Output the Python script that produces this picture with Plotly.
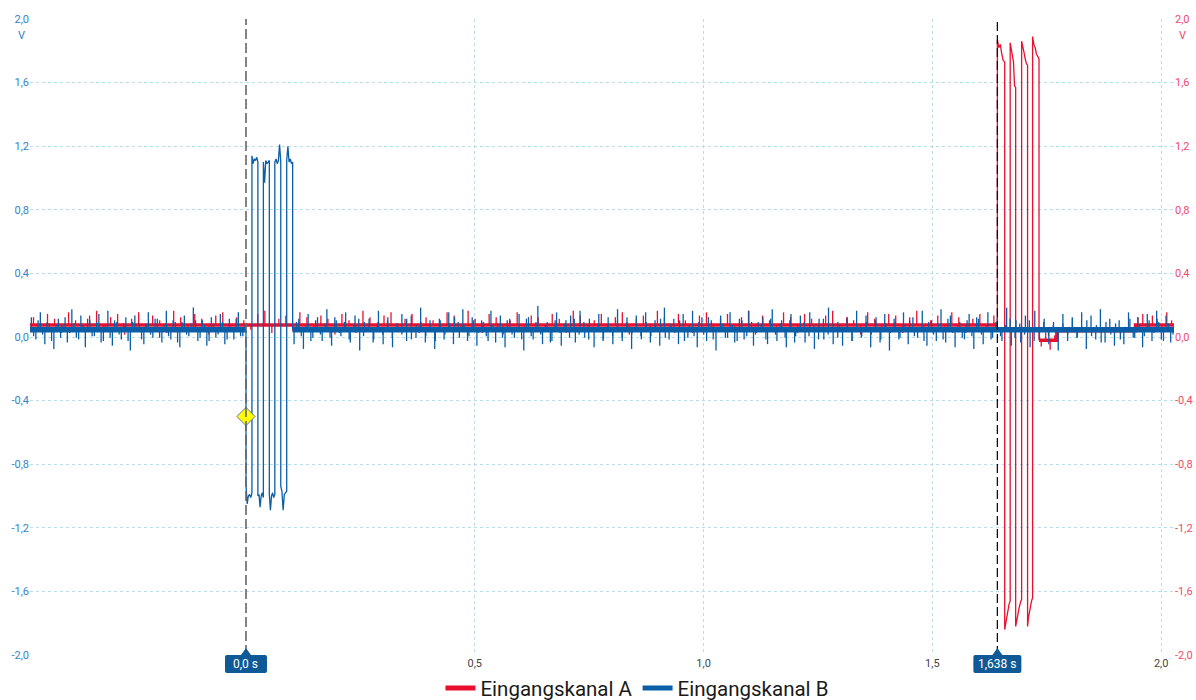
import numpy as np
import plotly.graph_objects as go

# ---------------- data ----------------
X_TICKS = [0.5, 1.0, 1.5, 2.0]
X_TICK_LABELS = ["0,5", "1,0", "1,5", "2,0"]
Y_TICKS = [-2.0, -1.6, -1.2, -0.8, -0.4, 0.0, 0.4, 0.8, 1.2, 1.6, 2.0]
Y_TICK_LABELS = ["-2,0", "-1,6", "-1,2", "-0,8", "-0,4", "0,0", "0,4", "0,8", "1,2", "1,6", "2,0"]
T_START = -0.472
T_END = 2.028

CURSOR_TIMES = [0.0, 1.642]
CURSOR_LABELS = ["0,0 s", "1,638 s"]
TRIGGER_T = [0.0]
TRIGGER_V = [-0.5]

# Channel B (blue)
BLUE_BASE = 0.045
BLUE_BURST_EDGES = [0.000, 0.013, 0.026, 0.038, 0.051, 0.063, 0.076, 0.089, 0.102]
BLUE_BURST_SHAPES = [
    [-0.93, -1.05, -1.00, -0.99, -1.01, -0.98],
    [1.14, 1.09, 1.12, 1.11, 1.13, 1.10],
    [-1.00, -0.99, -1.07, -1.00, -0.98, -1.01],
    [1.10, 0.97, 1.11, 1.09, 1.10, 1.11],
    [-0.99, -1.09, -1.00, -0.98, -1.01, -0.99],
    [1.10, 1.12, 1.09, 1.11, 1.21, 1.10],
    [-0.94, -0.97, -1.09, -0.99, -0.98, -0.97],
    [1.11, 1.20, 1.10, 1.12, 1.09, 1.10],
]
BLUE_PRE_SPIKES_CV = [8, -6, 11, -9, 4, -12, 7, 3, -8, 13, -5, 9, -11, 6, -4, 10, -7, 12,
                      -10, 5, -6, 8, -13, 9, 4, -9, 11, -5, 7, -8, 12, -6, 5, -11, 9, -4,
                      14, -7, 6, -10, 8, -5, 10, -9, 7, -6, 11, -4]
BLUE_PRE_SPIKES_B_CV = [-4, 6, -3, 5, -7, 3, -5, 8, -2, 4, -6, 3, 7, -4, 5, -8, 3, -5, 6, -3,
                        4, -7, 5, 2, -6, 4, -3, 7, -5, 3, -4, 6, -8, 5, -3, 4, 6, -5, 3, -7,
                        4, -3, 5, -6, 2, 7, -4, 3]
BLUE_POST_SPIKES_CV = [-9, 7, -12, 10, -5, 8, -7, 13, -10, 6, -4, 11, -8, 9, -13, 5, 7, -6,
                       12, -9, 8, -11, 4, 10, -7, 9, -5, 14, -8, 6, -12, 7, -6, 11, -9, 5,
                       13, -7, 8, -10, 6, -4, 12, -8, 9, -11, 7, -5, 10, -13, 8, -6, 15, -9,
                       5, -7, 11, -10, 6, 9, -8, 12, -5, 7, -11, 10, -6, 8, -9, 13, -7, 5,
                       -12, 9, -4, 11, -8, 6, -10, 14, -6, 7, -9, 10, -5, 12, -11, 8, -7, 6,
                       -13, 9, -5, 11, -8, 7, -6, 12, -10, 5, 8, -9, 13, -7, 6, -11, 10, -4,
                       9, -8, 11, -12, 7, -6, 14, -9, 5, -10, 8, -7, 12, -5, 9, -11, 6, -8,
                       10, -13, 7, -6, 11, -9, 8, -5, 12, -10, 6, -7, 13, -8, 9, -11, 5, -6,
                       10, -12, 7, -9, 11, -5, 8, -7, 14, -10, 6, -8, 9, -11, 12, -6, 7, -9,
                       5, -13, 10, -7, 8, -5, 11, -12, 9, -6, 13, -8, 7, -10, 6, -9, 11, -5,
                       8, -11, 10, -7, 12, -6, 9, -8]
BLUE_POST_SPIKES_B_CV = [5, -4, 3, -7, 6, -3, 4, -5, 8, -2, 5, -6, 3, 7, -4, 2, -8, 5, -3, 6,
                         -5, 4, -3, 7, -6, 3, 5, -4, 2, -7, 6, -3, 4, 8, -5, 3, -4, 6, -2, 5,
                         -7, 3, 4, -5, 6, -3, 2, -6, 7, -4, 5, -3, 3, -8, 6, -2, 4, -5, 7, -3,
                         5, -6, 2, 4, -7, 3, -4, 6, -5, 8, -3, 2, -6, 5, -4, 3, 7, -5, 4, -2,
                         6, -7, 3, -4, 5, -3, 8, -6, 2, 4, -5, 3, -7, 6, -4, 5, -2, 3, -6, 7,
                         -3, 4, -5, 6, -8, 2, 5, -4, 3, -6, 7, -3, 4, -5, 2, 6, -7, 3, -4, 5,
                         -3, 8, -6, 4, -2, 5, -5, 3, 6, -4, 2, -7, 5, -3, 4, -6, 7, -2, 3, -5,
                         6, -4, 8, -3, 2, -6, 5, -4, 3, 7, -5, 4, -3, 6, -7, 2, 5, -4, 3, -6,
                         4, -3, 7, -5, 2, 6, -4, 3, -8, 5, -3, 4, -6, 2, 7, -5, 3, -4, 6, -2,
                         5, -7, 4, -3]

# Channel A (red)
RED_BASE = 0.075
RED_AFTER_LEVELS = [-0.02, 0.04]
RED_AFTER_EDGES = [1.733, 1.772, 1.944]
RED_BURST_EDGES = [1.642, 1.658, 1.670, 1.682, 1.695, 1.708, 1.719, 1.733]
RED_BURST_SHAPES = [
    [1.87, 1.82, 1.84, 1.78, 1.74, 1.73],
    [-1.84, -1.80, -1.75, -1.71, -1.68, -1.66],
    [1.85, 1.81, 1.77, 1.73, 1.58, 1.57],
    [-1.82, -1.77, -1.73, -1.70, -1.67, -1.65],
    [1.86, 1.83, 1.79, 1.75, 1.72, 1.71],
    [-1.82, -1.76, -1.72, -1.69, -1.66, -1.64],
    [1.89, 1.84, 1.82, 1.78, 1.76, 1.75],
]
RED_PRE_SPIKES_CV = [5, -3, 7, 4, -5, 8, 3, -4, 6, 9, -3, 5, 7, -6, 4, 8, -4, 6, 3, -5, 9, 5,
                     -3, 7, 4, -6, 6, 8, -4, 5, 3, -3, 7, 9, -5, 4, 6, -4, 8, 5, -3, 6, 4, -6,
                     7, 3, -5, 9, 5, -4, 6, 8, -3, 4, 7, -5, 5, 3, -4, 8, 6, -3, 9, 4, -5, 7,
                     5, -6, 3, 8, -4, 6, 5, -3, 7, 4, -5, 9, 6, -4, 3, 7, -3, 5, 8, -6, 4, 6,
                     -4, 9, 5, -3, 7, 3, -5, 6, 8, -4, 4, 7, -3, 5, 9, -6, 6, 3, -4, 8, 5, -5,
                     7, 4, -3, 6, 9, -4, 5, 3, -6, 8, 4, -3, 7, 6, -5, 5, 9, -4, 3, 6, -3, 8,
                     5, -5, 4, 7, -4, 6]
RED_LOW_SPIKES_CV = [-4, 5, -6, 3]
RED_END_SPIKES_CV = [5, 7, -3, 6, 4, -4, 8, 3]

# ---------------- styles ----------------
BLUE = "#0b5ea6"
RED = "#e8102f"
GRID = "#b9dcea"
BLUE_TXT = "#3a80c4"
RED_TXT = "#ef4a6c"
FONT = "Roboto, 'Open Sans', sans-serif"


def spikes(t0, t1, base, cv_list, offset=0.5):
    n = len(cv_list)
    step = (t1 - t0) / n
    xs, ys = [], []
    for i, cv in enumerate(cv_list):
        t = t0 + (i + offset) * step
        xs += [t, t, None]
        ys += [base, base + cv / 100.0, None]
    return xs, ys


def burst(edges, shapes, before, after):
    xs, ys = [edges[0]], [before]
    for i, vals in enumerate(shapes):
        ts = np.linspace(edges[i], edges[i + 1], len(vals))
        xs += [float(t) for t in ts]
        ys += list(vals)
    xs.append(edges[-1])
    ys.append(after)
    return xs, ys


fig = go.Figure()

# ---- red channel (A) ----
red_band_x = [T_START, RED_BURST_EDGES[0], None,
              RED_AFTER_EDGES[0], RED_AFTER_EDGES[1], RED_AFTER_EDGES[1], RED_AFTER_EDGES[2],
              RED_AFTER_EDGES[2], T_END]
red_band_y = [RED_BASE, RED_BASE, None,
              RED_AFTER_LEVELS[0], RED_AFTER_LEVELS[0], RED_AFTER_LEVELS[1], RED_AFTER_LEVELS[1],
              RED_BASE, RED_BASE]
fig.add_trace(go.Scatter(x=red_band_x, y=red_band_y, mode="lines", line=dict(color=RED, width=3.5),
                         showlegend=False, hoverinfo="skip", connectgaps=False))
rx, ry = [], []
a, b = spikes(T_START, RED_BURST_EDGES[0], RED_BASE, RED_PRE_SPIKES_CV); rx += a; ry += b
a, b = spikes(RED_AFTER_EDGES[0], RED_AFTER_EDGES[1], RED_AFTER_LEVELS[0], RED_LOW_SPIKES_CV); rx += a; ry += b
a, b = spikes(RED_AFTER_EDGES[2], T_END, RED_BASE, RED_END_SPIKES_CV); rx += a; ry += b
a, b = burst(RED_BURST_EDGES, RED_BURST_SHAPES, RED_BASE, RED_AFTER_LEVELS[0]); rx += a; ry += b
fig.add_trace(go.Scatter(x=rx, y=ry, mode="lines", line=dict(color=RED, width=1.3),
                         showlegend=False, hoverinfo="skip", connectgaps=False))

# ---- blue channel (B) ----
blue_band_x = [T_START, BLUE_BURST_EDGES[0], None, BLUE_BURST_EDGES[-1], T_END]
blue_band_y = [BLUE_BASE, BLUE_BASE, None, BLUE_BASE, BLUE_BASE]
fig.add_trace(go.Scatter(x=blue_band_x, y=blue_band_y, mode="lines", line=dict(color=BLUE, width=5.5),
                         showlegend=False, hoverinfo="skip", connectgaps=False))
bx, by = [], []
a, b = spikes(T_START, BLUE_BURST_EDGES[0], BLUE_BASE, BLUE_PRE_SPIKES_CV, 0.3); bx += a; by += b
a, b = spikes(T_START, BLUE_BURST_EDGES[0], BLUE_BASE, BLUE_PRE_SPIKES_B_CV, 0.8); bx += a; by += b
a, b = spikes(BLUE_BURST_EDGES[-1], T_END, BLUE_BASE, BLUE_POST_SPIKES_CV, 0.3); bx += a; by += b
a, b = spikes(BLUE_BURST_EDGES[-1], T_END, BLUE_BASE, BLUE_POST_SPIKES_B_CV, 0.8); bx += a; by += b
a, b = burst(BLUE_BURST_EDGES, BLUE_BURST_SHAPES, BLUE_BASE, BLUE_BASE); bx += a; by += b
fig.add_trace(go.Scatter(x=bx, y=by, mode="lines", line=dict(color=BLUE, width=1.3),
                         showlegend=False, hoverinfo="skip", connectgaps=False))

# ---- trigger marker & legend entries (right axis layer, on top) ----
fig.add_trace(go.Scatter(x=TRIGGER_T, y=TRIGGER_V, mode="markers", yaxis="y2",
                         marker=dict(symbol="diamond", size=14, color="#ffff00",
                                     line=dict(color="#6a6fb0", width=1)),
                         showlegend=False, hoverinfo="skip"))
fig.add_trace(go.Scatter(x=[None], y=[None], mode="lines", yaxis="y2", name="Eingangskanal A",
                         line=dict(color=RED, width=5)))
fig.add_trace(go.Scatter(x=[None], y=[None], mode="lines", yaxis="y2", name="Eingangskanal B",
                         line=dict(color=BLUE, width=5)))

# ---- cursors ----
shapes = []
cursor_styles = [dict(color="#666666", width=1.6, dash="10px,4px"),
                 dict(color="#111111", width=1.3, dash="9px,4px")]
half_widths = [21, 24]
for t, st, hw in zip(CURSOR_TIMES, cursor_styles, half_widths):
    shapes.append(dict(type="line", xref="x", yref="paper", x0=t, x1=t, y0=0, y1=1,
                       line=st, layer="above"))
    path = (f"M {-hw},-16 L {-hw},-2 Q {-hw},0 {-hw+2},0 L -5,0 L 0,7 L 5,0 "
            f"L {hw-2},0 Q {hw},0 {hw},-2 L {hw},-16 Q {hw},-18 {hw-2},-18 "
            f"L {-hw+2},-18 Q {-hw},-18 {-hw},-16 Z")
    shapes.append(dict(type="path", xref="x", xsizemode="pixel", xanchor=t,
                       yref="paper", ysizemode="pixel", yanchor=0, path=path,
                       fillcolor="#0f5a96", line=dict(width=0), layer="above"))

annotations = []
for t, lab in zip(CURSOR_TIMES, CURSOR_LABELS):
    annotations.append(dict(x=t, y=0, xref="x", yref="paper", text=lab, showarrow=False,
                            yshift=-9, yanchor="middle", xanchor="center",
                            font=dict(family=FONT, size=12, color="white")))
annotations.append(dict(x=0, y=2.0, xref="paper", yref="y", text="V", showarrow=False,
                        xanchor="right", xshift=-3, yshift=-16,
                        font=dict(family=FONT, size=11, color=BLUE_TXT)))
annotations.append(dict(x=1, y=2.0, xref="paper", yref="y", text="V", showarrow=False,
                        xanchor="left", xshift=3, yshift=-16,
                        font=dict(family=FONT, size=11, color=RED_TXT)))

fig.update_layout(
    width=1196, height=700, autosize=False,
    margin=dict(l=30, r=22, t=19, b=45, pad=0, autoexpand=False),
    paper_bgcolor="white", plot_bgcolor="white",
    font=dict(family=FONT),
    showlegend=True,
    legend=dict(orientation="h", x=0.531, xanchor="center", y=-0.052, yanchor="middle",
                font=dict(family=FONT, size=20.5, color="#1a1a1a"), bgcolor="rgba(0,0,0,0)",
                itemwidth=30, tracegroupgap=0),
    shapes=shapes,
    annotations=annotations,
    xaxis=dict(range=[T_START, T_END], tickvals=X_TICKS, ticktext=X_TICK_LABELS, showgrid=True,
               gridcolor=GRID, griddash="3px,3px", gridwidth=1, zeroline=False, showline=False,
               ticks="", tickfont=dict(family=FONT, size=11, color="#444444"), automargin=False),
    yaxis=dict(range=[-2, 2], tickvals=Y_TICKS, ticktext=Y_TICK_LABELS, showgrid=True,
               gridcolor=GRID, griddash="3px,3px", gridwidth=1, zeroline=False, showline=False,
               ticks="", tickfont=dict(family=FONT, size=11, color=BLUE_TXT), automargin=False),
    yaxis2=dict(range=[-2, 2], overlaying="y", side="right", tickvals=Y_TICKS, ticktext=Y_TICK_LABELS,
                showgrid=False, zeroline=False, showline=False, ticks="",
                tickfont=dict(family=FONT, size=11, color=RED_TXT), automargin=False),
)

fig.write_html("out.html", config={"displayModeBar": False},
               post_script="document.body.style.margin='0';")
